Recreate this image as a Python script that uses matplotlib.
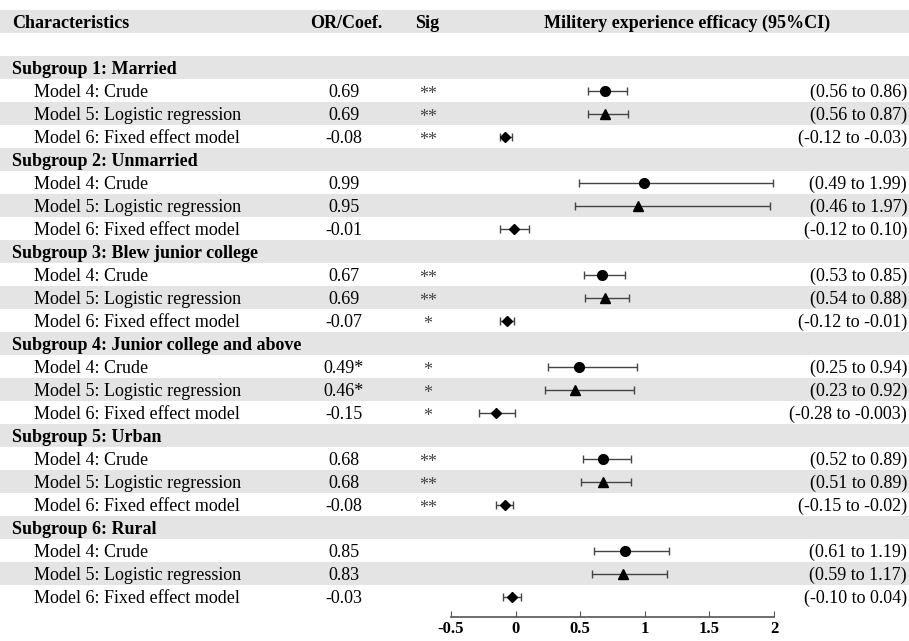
import matplotlib.pyplot as plt
import numpy as np

plt.rcParams['font.family'] = ['Liberation Serif', 'DejaVu Serif']

# table content
groups = ["Subgroup 1: Married", "Subgroup 2: Unmarried", "Subgroup 3: Blew junior college",
          "Subgroup 4: Junior college and above", "Subgroup 5: Urban", "Subgroup 6: Rural"]
models = ["Model 4: Crude", "Model 5: Logistic regression", "Model 6: Fixed effect model"]
est = [0.69, 0.69, -0.08,
       0.99, 0.95, -0.01,
       0.67, 0.69, -0.07,
       0.49, 0.46, -0.15,
       0.68, 0.68, -0.08,
       0.85, 0.83, -0.03]
lo = [0.56, 0.56, -0.12,
      0.49, 0.46, -0.12,
      0.53, 0.54, -0.12,
      0.25, 0.23, -0.28,
      0.52, 0.51, -0.15,
      0.61, 0.59, -0.10]
hi = [0.86, 0.87, -0.03,
      1.99, 1.97, 0.10,
      0.85, 0.88, -0.01,
      0.94, 0.92, -0.003,
      0.89, 0.89, -0.02,
      1.19, 1.17, 0.04]
or_labels = ["0.69", "0.69", "-0.08",
             "0.99", "0.95", "-0.01",
             "0.67", "0.69", "-0.07",
             "0.49*", "0.46*", "-0.15",
             "0.68", "0.68", "-0.08",
             "0.85", "0.83", "-0.03"]
sig = ["**", "**", "**",
       "", "", "",
       "**", "**", "*",
       "*", "*", "*",
       "**", "**", "**",
       "", "", ""]
ci_labels = ["(0.56 to 0.86)", "(0.56 to 0.87)", "(-0.12 to -0.03)",
             "(0.49 to 1.99)", "(0.46 to 1.97)", "(-0.12 to 0.10)",
             "(0.53 to 0.85)", "(0.54 to 0.88)", "(-0.12 to -0.01)",
             "(0.25 to 0.94)", "(0.23 to 0.92)", "(-0.28 to -0.003)",
             "(0.52 to 0.89)", "(0.51 to 0.89)", "(-0.15 to -0.02)",
             "(0.61 to 1.19)", "(0.59 to 1.17)", "(-0.10 to 0.04)"]
xticks = [-0.5, 0, 0.5, 1, 1.5, 2]
xtick_labels = ["-0.5", "0", "0.5", "1", "1.5", "2"]

W, H = 909, 641
row_h = 23
y0 = 21.5
fs = 13
gray = '#e4e4e4'

fig = plt.figure(figsize=(W / 100, H / 100), dpi=100)
bg = fig.add_axes([0, 0, 1, 1])
bg.set_xlim(0, W)
bg.set_ylim(H, 0)
bg.axis('off')

n_rows = 2 + len(groups) * 4
for i in range(n_rows):
    if i % 2 == 0:
        c = y0 + row_h * i
        bg.axhspan(c - row_h / 2, c + row_h / 2, color=gray, lw=0, zorder=0)

va = 'center_baseline'
# header
bg.text(12, y0, "Characteristics", fontsize=fs, fontweight='bold', va=va)
bg.text(346, y0, "OR/Coef.", fontsize=fs, fontweight='bold', va=va, ha='center')
bg.text(427, y0, "Sig", fontsize=fs, fontweight='bold', va=va, ha='center')
bg.text(687, y0, "Militery experience efficacy (95%CI)", fontsize=fs, fontweight='bold',
        va=va, ha='center')

row_y = []
for g, name in enumerate(groups):
    gy = y0 + row_h * (2 + g * 4)
    bg.text(12, gy, name, fontsize=fs, fontweight='bold', va=va)
    for m, mname in enumerate(models):
        k = g * 3 + m
        y = gy + row_h * (m + 1)
        row_y.append(y)
        bg.text(34, y, mname, fontsize=fs, va=va)
        bg.text(344, y, or_labels[k], fontsize=fs, va=va, ha='center')
        bg.text(428, y + 2, sig[k], fontsize=fs, va=va, ha='center', color='#444')
        bg.text(907, y, ci_labels[k], fontsize=fs, va=va, ha='right')

# forest plot
ax_bottom = 617
ax = fig.add_axes([451 / W, (H - ax_bottom) / H, (774 - 451) / W, ax_bottom / H])
ax.set_facecolor('none')
ax.set_xlim(-0.5, 2)
ax.set_ylim(ax_bottom, 0)

est = np.array(est)
lo = np.array(lo)
hi = np.array(hi)
row_y = np.array(row_y)
ax.errorbar(est, row_y, xerr=[est - lo, hi - est], fmt='none', ecolor='#444',
            elinewidth=1, capsize=3, capthick=1, zorder=2)
markers = ['o', '^', 'D']
sizes = [7, 7.5, 5.5]
for m in range(3):
    ax.plot(est[m::3], row_y[m::3], ls='none', marker=markers[m], ms=sizes[m],
            color='black', zorder=3)

for s in ['top', 'right', 'left']:
    ax.spines[s].set_visible(False)
ax.spines['bottom'].set_color('#555')
ax.spines['bottom'].set_linewidth(1.2)
ax.set_yticks([])
ax.set_xticks(xticks)
ax.set_xticklabels(xtick_labels, fontweight='bold', fontsize=12)
ax.tick_params(axis='x', direction='in', length=4, color='#555', pad=3)

fig.savefig('out.png', dpi=100)
